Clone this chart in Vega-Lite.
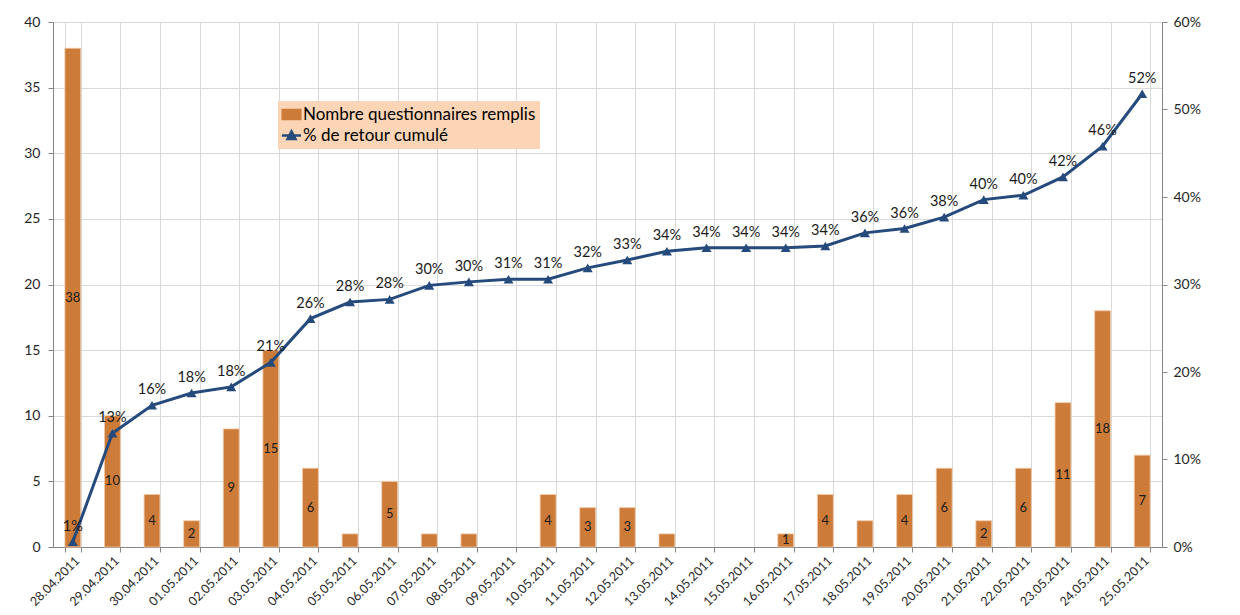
{
  "$schema": "https://vega.github.io/schema/vega-lite/v6.json",
  "width": 1109,
  "height": 525,
  "autosize": {"type": "none"},
  "padding": {"left": 53, "top": 22, "right": 78, "bottom": 68},
  "background": "white",
  "config": {
    "view": {"stroke": null},
    "font": "Lato",
    "axis": {
      "domainColor": "#868686",
      "tickColor": "#868686",
      "gridColor": "#d9d9d9",
      "labelFont": "Lato",
      "labelColor": "#262626",
      "titleFont": "Lato"
    },
    "legend": {
      "labelLimit": 400
    }
  },
  "data": {
    "values": [
      {"d": "28.04.2011", "n": 38, "lbl": 38, "p": 0.006},
      {"d": "29.04.2011", "n": 10, "lbl": 10, "p": 0.130},
      {"d": "30.04.2011", "n": 4, "lbl": 4, "p": 0.162},
      {"d": "01.05.2011", "n": 2, "lbl": 2, "p": 0.176},
      {"d": "02.05.2011", "n": 9, "lbl": 9, "p": 0.183},
      {"d": "03.05.2011", "n": 15, "lbl": 15, "p": 0.211},
      {"d": "04.05.2011", "n": 6, "lbl": 6, "p": 0.261},
      {"d": "05.05.2011", "n": 1, "lbl": null, "p": 0.280},
      {"d": "06.05.2011", "n": 5, "lbl": 5, "p": 0.283},
      {"d": "07.05.2011", "n": 1, "lbl": null, "p": 0.299},
      {"d": "08.05.2011", "n": 1, "lbl": null, "p": 0.303},
      {"d": "09.05.2011", "n": 0, "lbl": null, "p": 0.306},
      {"d": "10.05.2011", "n": 4, "lbl": 4, "p": 0.306},
      {"d": "11.05.2011", "n": 3, "lbl": 3, "p": 0.319},
      {"d": "12.05.2011", "n": 3, "lbl": 3, "p": 0.328},
      {"d": "13.05.2011", "n": 1, "lbl": null, "p": 0.338},
      {"d": "14.05.2011", "n": 0, "lbl": null, "p": 0.342},
      {"d": "15.05.2011", "n": 0, "lbl": null, "p": 0.342},
      {"d": "16.05.2011", "n": 1, "lbl": 1, "p": 0.342},
      {"d": "17.05.2011", "n": 4, "lbl": 4, "p": 0.344},
      {"d": "18.05.2011", "n": 2, "lbl": null, "p": 0.359},
      {"d": "19.05.2011", "n": 4, "lbl": 4, "p": 0.364},
      {"d": "20.05.2011", "n": 6, "lbl": 6, "p": 0.377},
      {"d": "21.05.2011", "n": 2, "lbl": 2, "p": 0.397},
      {"d": "22.05.2011", "n": 6, "lbl": 6, "p": 0.402},
      {"d": "23.05.2011", "n": 11, "lbl": 11, "p": 0.423},
      {"d": "24.05.2011", "n": 18, "lbl": 18, "p": 0.458},
      {"d": "25.05.2011", "n": 7, "lbl": 7, "p": 0.518}
    ]
  },
  "encoding": {
    "x": {
      "field": "d",
      "type": "ordinal",
      "sort": null,
      "scale": {
        "domain": ["28.04.2011", "29.04.2011", "30.04.2011", "01.05.2011", "02.05.2011", "03.05.2011", "04.05.2011", "05.05.2011", "06.05.2011", "07.05.2011", "08.05.2011", "09.05.2011", "10.05.2011", "11.05.2011", "12.05.2011", "13.05.2011", "14.05.2011", "15.05.2011", "16.05.2011", "17.05.2011", "18.05.2011", "19.05.2011", "20.05.2011", "21.05.2011", "22.05.2011", "23.05.2011", "24.05.2011", "25.05.2011"],
        "paddingInner": 0.6,
        "paddingOuter": 0.3
      },
      "axis": {
        "title": null,
        "labelAngle": -45,
        "labelFontSize": 12.5,
        "tickBand": "extent",
        "tickSize": 5,
        "grid": true,
        "labelPadding": 2
      }
    }
  },
  "layer": [
    {
      "layer": [
        {
          "transform": [{"filter": "datum.n > 0"}],
          "mark": {"type": "bar", "stroke": "#F2C9A8", "strokeWidth": 0.8},
          "encoding": {
            "y": {
              "field": "n",
              "type": "quantitative",
              "scale": {"domain": [0, 40]},
              "axis": {
                "title": null,
                "values": [0, 5, 10, 15, 20, 25, 30, 35, 40],
                "labelFontSize": 14,
                "tickSize": 5,
                "labelPadding": 8,
                "grid": true
              }
            },
            "color": {
              "datum": "Nombre questionnaires remplis",
              "scale": {
                "domain": ["Nombre questionnaires remplis", "% de retour cumulé"],
                "range": ["#CD7B38", "#254A7C"]
              },
              "legend": {
                "title": null,
                "orient": "none",
                "legendX": 225,
                "legendY": 79,
                "fillColor": "#FBD5B5",
                "padding": 4,
                "labelFont": "Lato",
                "labelFontSize": 17,
                "labelColor": "#000000",
                "labelOffset": 2,
                "labelLimit": 400,
                "rowPadding": 2,
                "symbolSize": 256,
                "encode": {
                  "symbols": {
                    "update": {
                      "shape": {"signal": "datum.value === '% de retour cumulé' ? 'M-1.2,0H1.2M-0.5,0.45L0,-0.5L0.5,0.45Z' : 'M-1.1,-0.55H1.1V0.55H-1.1Z'"},
                      "fill": {"scale": "color", "field": "value"},
                      "stroke": {"scale": "color", "field": "value"},
                      "strokeWidth": {"value": 2.5},
                      "opacity": {"value": 1},
                      "fillOpacity": {"value": 1}
                    }
                  }
                }
              }
            }
          }
        },
        {
          "transform": [
            {"filter": "datum.lbl != null"},
            {"calculate": "datum.n / 2", "as": "mid"}
          ],
          "mark": {"type": "text", "font": "Lato", "fontSize": 13, "color": "#1a1a1a", "baseline": "middle"},
          "encoding": {
            "y": {"field": "mid", "type": "quantitative", "scale": {"domain": [0, 40]}},
            "text": {"field": "lbl", "type": "quantitative"}
          }
        }
      ]
    },
    {
      "layer": [
        {
          "mark": {
            "type": "line",
            "strokeWidth": 3,
            "point": {"shape": "triangle-up", "filled": true, "size": 100}
          },
          "encoding": {
            "y": {
              "field": "p",
              "type": "quantitative",
              "scale": {"domain": [0, 0.6]},
              "axis": {
                "title": null,
                "orient": "right",
                "format": ".0%",
                "values": [0, 0.1, 0.2, 0.3, 0.4, 0.5, 0.6],
                "labelFontSize": 14,
                "tickSize": 5,
                "labelPadding": 6,
                "grid": false
              }
            },
            "color": {
              "datum": "% de retour cumulé",
              "legend": {
                "title": null,
                "orient": "none",
                "legendX": 225,
                "legendY": 79,
                "fillColor": "#FBD5B5",
                "padding": 4,
                "labelFont": "Lato",
                "labelFontSize": 17,
                "labelColor": "#000000",
                "labelOffset": 2,
                "labelLimit": 400,
                "rowPadding": 2,
                "symbolSize": 256,
                "encode": {
                  "symbols": {
                    "update": {
                      "shape": {"signal": "datum.value === '% de retour cumulé' ? 'M-1.2,0H1.2M-0.5,0.45L0,-0.5L0.5,0.45Z' : 'M-1.1,-0.55H1.1V0.55H-1.1Z'"},
                      "fill": {"scale": "color", "field": "value"},
                      "stroke": {"scale": "color", "field": "value"},
                      "strokeWidth": {"value": 2.5},
                      "opacity": {"value": 1},
                      "fillOpacity": {"value": 1}
                    }
                  }
                }
              }
            }
          }
        },
        {
          "mark": {"type": "text", "font": "Lato", "fontSize": 14.5, "color": "#1a1a1a", "baseline": "bottom", "dy": -8},
          "encoding": {
            "y": {"field": "p", "type": "quantitative", "scale": {"domain": [0, 0.6]}},
            "text": {"field": "p", "type": "quantitative", "format": ".0%"}
          }
        }
      ]
    }
  ],
  "resolve": {"scale": {"y": "independent"}}
}
